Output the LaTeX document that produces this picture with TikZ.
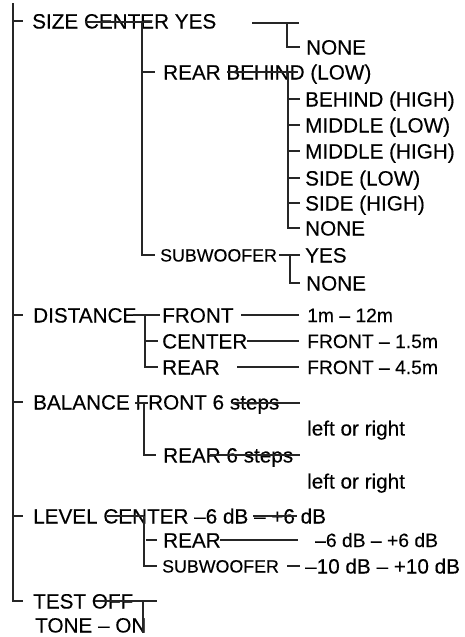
\documentclass[tikz,border=0pt]{standalone}
\usepackage{fontspec}
\setmainfont{Liberation Sans}[FakeBold=0.25]
\begin{document}
\begin{tikzpicture}[x=1pt,y=-1pt,
  t/.style={anchor=base west,inner sep=0pt,font=\fontsize{20.7}{24}\selectfont,text=black},
  tn/.style={anchor=base west,inner sep=0pt,font=\fontsize{19.3}{23}\selectfont,text=black},
  ts/.style={anchor=base west,inner sep=0pt,font=\fontsize{17.8}{21}\selectfont,text=black},
  ln/.style={draw=black!85,line width=1.2pt}]
\useasboundingbox (0,0) rectangle (464,637);
% ---------- texts ----------
\node[t] (size) at (32,28.5) {SIZE CENTER YES};
\node[t] (none1) at (306,54.5) {NONE};
\node[t] (rear) at (163,79.5) {REAR BEHIND (LOW)};
\node[t] (bh) at (305,106.5) {BEHIND (HIGH)};
\node[t] (ml) at (305,132.5) {MIDDLE (LOW)};
\node[t] (mh) at (305,158.5) {MIDDLE (HIGH)};
\node[t] (sl) at (305,185.5) {SIDE (LOW)};
\node[t] (sh) at (305,210.5) {SIDE (HIGH)};
\node[t] (none2) at (305,235.5) {NONE};
\node[ts] (sub) at (160,261.5) {SUBWOOFER};
\node[t] (yes) at (305,262.5) {YES};
\node[t] (none3) at (306,290.5) {NONE};
\node[t] (dist) at (33,322.5) {DISTANCE};
\node[t] (dfront) at (162,322.5) {FRONT};
\node[t] (dcenter) at (162,348.5) {CENTER};
\node[t] (drear) at (162,374.5) {REAR};
\node[tn] (v1) at (307,322) {1m – 12m};
\node[tn] (v2) at (307,348) {FRONT – 1.5m};
\node[tn] (v3) at (307,374) {FRONT – 4.5m};
\node[t] (bal) at (33,409.5) {BALANCE FRONT 6 steps};
\node[t] (lr1) at (307,435.5) {left or right};
\node[t] (brear) at (163,462.5) {REAR 6 steps};
\node[t] (lr2) at (307,488.5) {left or right};
\node[t] (lev) at (33,523.5) {LEVEL CENTER –6 dB – +6 dB};
\node[t] (lrear) at (163,547.5) {REAR};
\node[tn] (lv1) at (315,547) {–6 dB – +6 dB};
\node[ts] (lsub) at (162,572.5) {SUBWOOFER};
\node[t] (lv2) at (305,573.5) {–10 dB – +10 dB};
\node[t] (test) at (33,608.5) {TEST OFF};
\node[t] (tone) at (35,632.5) {TONE – ON};
% ---------- named points ----------
\coordinate (top) at (13,3);
\coordinate (bot) at (13,601);
% ---------- lines ----------
\draw[ln] (top) -- (bot) -- (23,601);
\foreach \yy in {21,315,402,516} \draw[ln] (13,\yy) -- (23,\yy);
% SIZE
\draw[ln] (85,22) -- (152,22);
\draw[ln] (142,22) -- (142,255) -- (155,255);
\draw[ln] (142,72) -- (155,72);
\draw[ln] (252,23) -- (299,23);
\draw[ln] (287,23) -- (287,47) -- (300,47);
\draw[ln] (227,72) -- (298,72);
\draw[ln] (288,72) -- (288,228) -- (300,228);
\foreach \yy in {99,125,151,178,203} \draw[ln] (288,\yy) -- (300,\yy);
\draw[ln] (279,255) -- (300,255);
\draw[ln] (290,255) -- (290,283) -- (300,283);
% DISTANCE
\draw[ln] (133,315) -- (160,315);
\draw[ln] (145,315) -- (145,367) -- (158,367);
\draw[ln] (145,341) -- (158,341);
\draw[ln] (241,315) -- (299,315);
\draw[ln] (247,341) -- (299,341);
\draw[ln] (237,367) -- (299,367);
% BALANCE
\draw[ln] (135,403) -- (148,403);
\draw[ln] (232,403) -- (300,403);
\draw[ln] (144,403) -- (144,455) -- (156,455);
\draw[ln] (210,455) -- (300,455);
% LEVEL
\draw[ln] (107,516) -- (144,516);
\draw[ln] (253,516) -- (297,516);
\draw[ln] (144,516) -- (144,566) -- (157,566);
\draw[ln] (146,540) -- (157,540);
\draw[ln] (220,540) -- (298,540);
\draw[ln] (287,566) -- (300,566);
% TEST
\draw[ln] (95,601) -- (157,601);
\draw[ln] (143,601) -- (143,633);
\end{tikzpicture}
\end{document}
